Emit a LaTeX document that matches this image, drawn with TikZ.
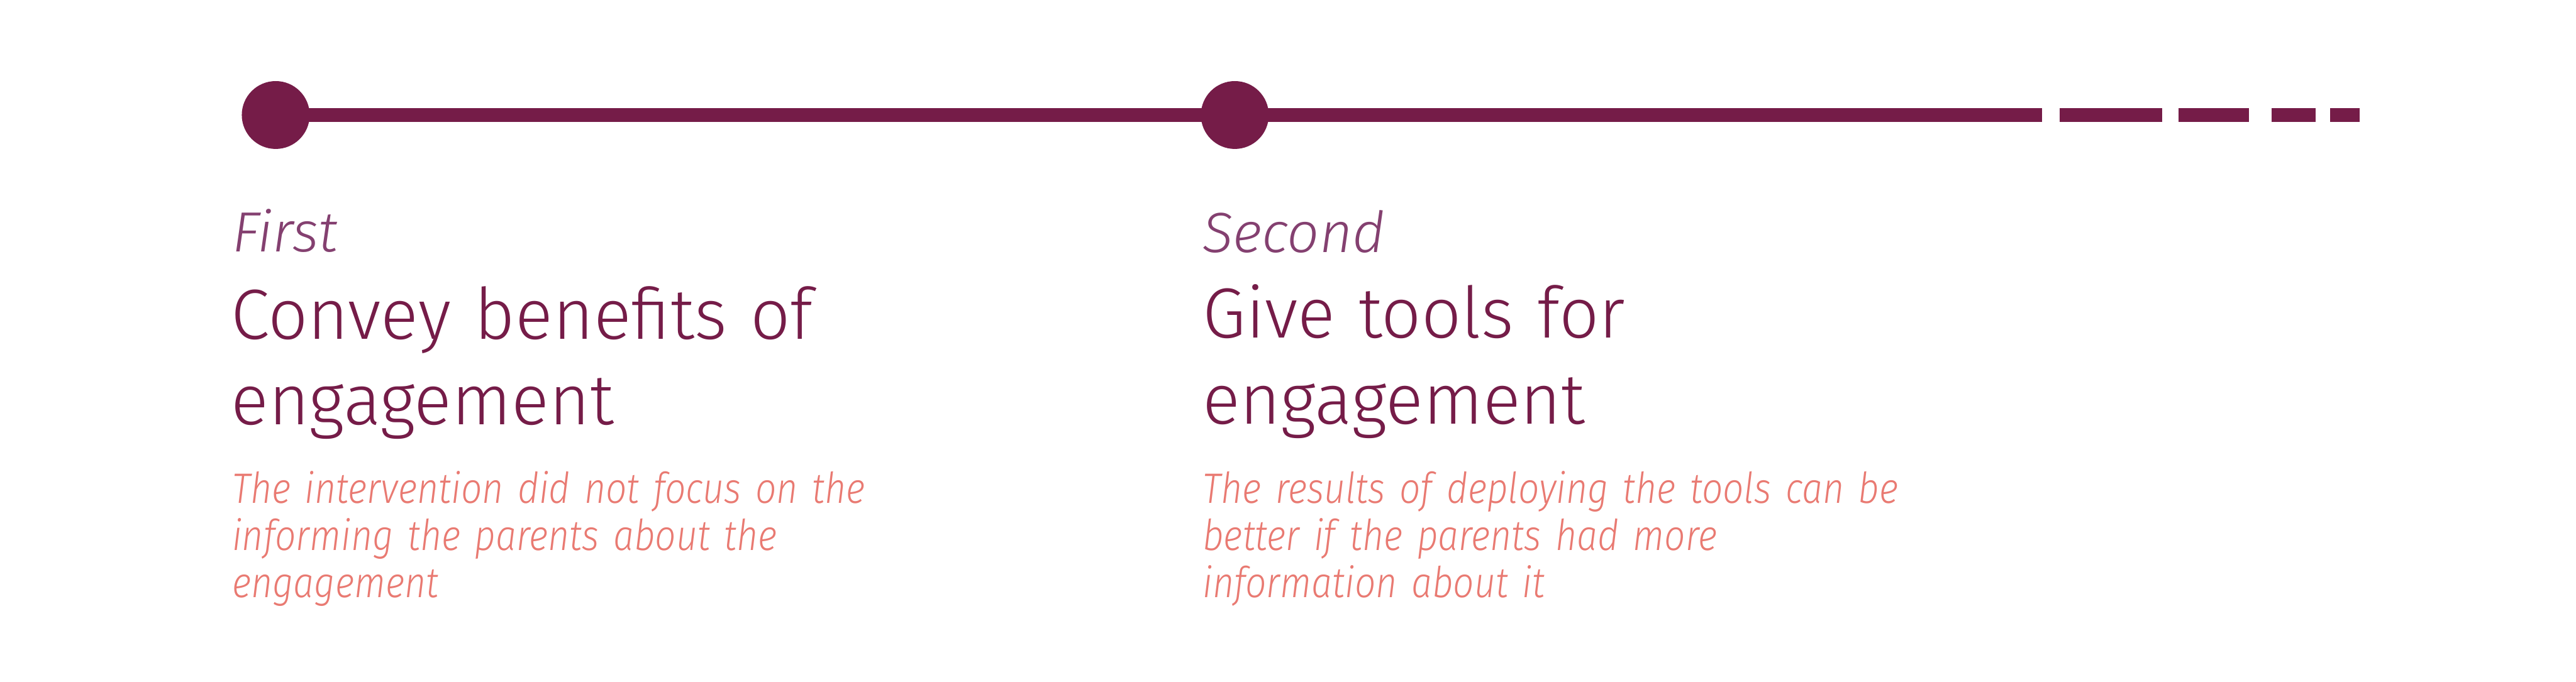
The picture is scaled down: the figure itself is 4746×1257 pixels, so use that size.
\documentclass[tikz,border=0pt]{standalone}
\usepackage{fontspec}
\setmainfont{Fira Sans}[UprightFont=* Light, ItalicFont=* Light Italic]
\newfontfamily\headfont{Fira Sans}[UprightFont=* Light, FakeStretch=0.985]
\newfontfamily\descfont{Fira Sans}[UprightFont=* Light Italic, FakeStretch=0.868]
\definecolor{plum}{HTML}{751C48}
\definecolor{plumlight}{HTML}{844070}
\definecolor{coral}{HTML}{E97A72}
\begin{document}
\begin{tikzpicture}[x=0.01cm,y=-0.01cm,
  dot/.style={circle,fill=plum,inner sep=0pt,minimum size=1.25cm},
  bar/.style={draw=plum,line width=0.245cm,line cap=butt},
  ordinal/.style={anchor=base west,inner sep=0pt,font=\fontsize{29.7pt}{36pt}\selectfont\itshape,text=plumlight},
  head/.style={anchor=base west,inner sep=0pt,font=\headfont\fontsize{37.2pt}{44.95pt}\selectfont,text=plum,text width=16cm,align=left},
  desc/.style={anchor=base west,inner sep=0pt,font=\descfont\fontsize{22.3pt}{24.75pt}\selectfont,text=coral,text width=16cm,align=left}]
\useasboundingbox (0,0) rectangle (4746,1257);
\fill[white] (0,0) rectangle (4746,1257);
% timeline
\coordinate (start) at (508,212);
\coordinate (solidend) at (3762,212);
\coordinate (dashstart) at (3795,212);
\coordinate (dashend) at (4347,212);
\draw[bar] (start) -- (solidend);
\draw[bar,dash pattern=on 53.77pt off 8.54pt on 36.70pt off 11.95pt on 23.04pt off 7.68pt on 15.36pt off 100pt] (dashstart) -- (dashend);
\node[dot] (c1) at (start) {};
\node[dot] (c2) at (2275,212) {};
% column 1
\node[ordinal] (o1) at (427,464) {First};
\node[head] (h1) at (425,625) {Convey benefits of\\engagement};
\node[desc] (d1) at (427,927) {The intervention did not focus on the\\informing the parents about the\\engagement};
% column 2
\node[ordinal] (o2) at (2215,465) {Second};
\node[head] (h2) at (2215,623) {Give tools for\\engagement};
\node[desc] (d2) at (2215,927) {The results of deploying the tools can be\\better if the parents had more\\information about it};
\end{tikzpicture}
\end{document}
